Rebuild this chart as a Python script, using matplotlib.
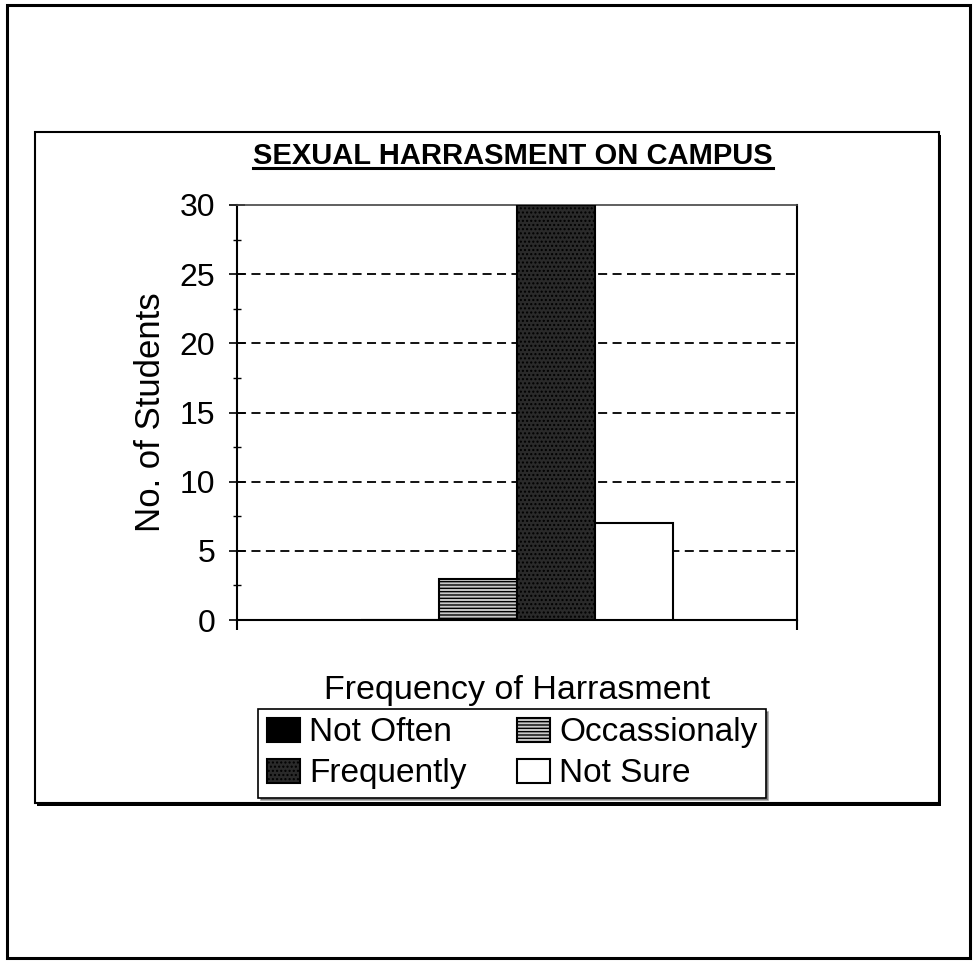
import numpy as np
import matplotlib
matplotlib.use("Agg")
from matplotlib import pyplot as plt
from matplotlib.patches import Rectangle
from matplotlib.lines import Line2D

plt.rcParams['font.family'] = ['Liberation Sans', 'DejaVu Sans']
plt.rcParams['hatch.color'] = 'black'

# data
series = ['Not Often', 'Occassionaly', 'Frequently', 'Not Sure']
counts = [0, 3, 30, 7]
colors = ['black', '#c8c8c8', '#2a2a2a', 'white']
hatches = [None, '-----', '....', None]
yticks = [0, 5, 10, 15, 20, 25, 30]

W, H = 976, 961
fig = plt.figure(figsize=(W / 100, H / 100), dpi=100)


def fx(px):
    return px / W


def fy(py):
    return 1 - py / H


# outer page border
fig.patches.append(Rectangle((fx(7), fy(958)), fx(970) - fx(7), fy(5) - fy(958),
                             transform=fig.transFigure, fill=False, lw=2.2,
                             ec='black', zorder=0))
# chart area border with a small shadow
fig.patches.append(Rectangle((fx(37), fy(806)), fx(939) - fx(35), fy(132) - fy(803),
                             transform=fig.transFigure, fc='black', lw=0, zorder=0))
fig.patches.append(Rectangle((fx(35), fy(803)), fx(939) - fx(35), fy(132) - fy(803),
                             transform=fig.transFigure, fc='white', ec='black',
                             lw=1.5, zorder=0.5))

ax = fig.add_axes([fx(237), fy(620), fx(797) - fx(237), fy(205) - fy(620)])
ax.set_zorder(2)
ax.patch.set_alpha(0)

w = 0.139
offsets = (np.arange(len(series)) - 1.5) * w
handles = []
for i, name in enumerate(series):
    b = ax.bar(offsets[i], counts[i], width=w, color=colors[i],
               edgecolor='black', linewidth=1.5, hatch=hatches[i],
               label=name, zorder=3)
    handles.append(b)

ax.set_xlim(-0.5, 0.5)
ax.set_ylim(0, 30)
ax.set_yticks(yticks)
ax.set_yticks(np.arange(0, 30.1, 2.5), minor=True)
ax.tick_params(axis='y', which='major', direction='inout', length=11, width=1.2,
               labelsize=23, pad=10)
ax.tick_params(axis='y', which='minor', direction='inout', length=6, width=1)
ax.set_xticks([-0.5, 0.5])
ax.set_xticklabels([])
ax.tick_params(axis='x', direction='out', length=7, width=1.5)
ax.tick_params(right=False)

for y in yticks[1:-1]:
    ax.axhline(y, color='black', lw=1.3, ls=(0, (5, 3)), zorder=1)

for s in ['left', 'right', 'bottom']:
    ax.spines[s].set_linewidth(1.5)
ax.spines['top'].set_linewidth(1.2)
ax.spines['top'].set_color('#444444')

ax.set_ylabel('No. of Students', fontsize=25, labelpad=9)
ax.set_xlabel('Frequency of Harrasment', fontsize=24.5, labelpad=29)

# title with underline
t = fig.text(fx(513), fy(164), 'SEXUAL HARRASMENT ON CAMPUS', ha='center',
             va='baseline', fontsize=21, fontweight='bold')
fig.canvas.draw()
bb = t.get_window_extent()
fig.add_artist(Line2D([bb.x0 / W, bb.x1 / W], [fy(168), fy(168)],
                      transform=fig.transFigure, color='black', lw=2.2))

# legend: row 1 Not Often / Occassionaly, row 2 Frequently / Not Sure
order = [0, 2, 1, 3]
leg = ax.legend([handles[k] for k in order], [series[k] for k in order],
                ncol=2, loc='upper center',
                bbox_to_anchor=(fx(512), fy(709)), bbox_transform=fig.transFigure,
                fontsize=24, frameon=True, fancybox=False, shadow=True,
                handlelength=1.0, handleheight=0.75, handletextpad=0.27,
                columnspacing=1.5, labelspacing=0.3, borderpad=0.25,
                borderaxespad=0)
leg.get_frame().set_edgecolor('black')
leg.get_frame().set_linewidth(1.2)

fig.savefig('out.png', dpi=100, facecolor='white')
